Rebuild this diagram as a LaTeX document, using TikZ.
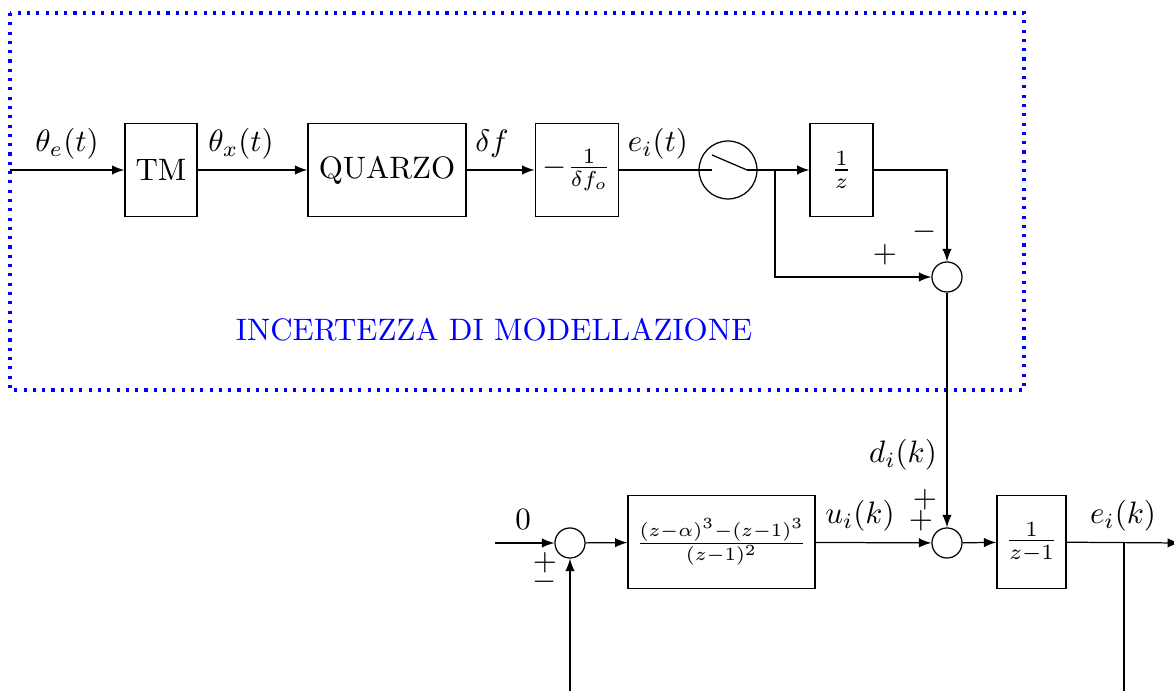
\documentclass[tikz,border=0pt]{standalone}
\usepackage{amsmath,amssymb}
\usetikzlibrary{arrows.meta,positioning}
\tikzset{
  blk/.style={draw, minimum height=30pt, inner sep=2pt},
  sumnode/.style={circle, draw, minimum size=9.7pt, inner sep=0pt},
  lab/.style={inner sep=0pt},
}

\begin{document}
\begin{tikzpicture}[x=.3226pt,y=-.3226pt,>=latex]
\useasboundingbox (0,0) rectangle (1174,691);
% incertezza di modellazione
\draw[blue,dotted,line width=1pt] (10,13) rectangle (1024,390);
\node[lab,text=blue] (inc) at (494,330) {INCERTEZZA DI MODELLAZIONE};
% catena superiore
\coordinate (in1) at (10,170);
\node[blk,minimum width=23.2pt] (tm) at (161,170) {TM};
\node[blk,minimum width=51pt] (qz) at (387,170) {QUARZO};
\node[blk,minimum width=27pt] (gf) at (577,170) {$-\frac{1}{\delta f_o}$};
\node[circle,draw,minimum size=18.7pt,inner sep=0pt] (samp) at (728,170) {};
\coordinate (swL) at (712,170);
\coordinate (swA) at (712,155);
\coordinate (swR) at (747,170);
\coordinate (br1) at (775,170);
\node[blk,minimum width=20.3pt] (zinv) at (841.5,170) {$\frac{1}{z}$};
\node[sumnode] (s0) at (947,277) {};
\draw[->] (in1) -- (tm);
\draw[->] (tm) -- (qz);
\draw[->] (qz) -- (gf);
\draw (gf) -- (swL);
\draw (swA) -- (swR);
\draw[->] (swR) -- (zinv);
\draw[->] (zinv) -| (s0);
\draw[->] (br1) |- (s0);
\node[lab] (lte) at (67,144) {$\theta_e(t)$};
\node[lab] (ltx) at (241,144) {$\theta_x(t)$};
\node[lab] (ldf) at (492,144) {$\delta f$};
\node[lab] (let) at (658,144) {$e_i(t)$};
\node[lab] (lm0) at (925,232) {$-$};
\node[lab] (lp0) at (885,255) {$+$};
% anello di controllo
\coordinate (in0) at (495,543);
\node[sumnode] (s1) at (570,543) {};
\node[blk,minimum width=60.3pt,inner sep=1pt,font=\fontsize{9.2pt}{11pt}\selectfont] (ctrl) at (721.5,542) {$\frac{(z-\alpha)^3-(z-1)^3}{(z-1)^2}$};
\node[sumnode] (s2) at (947,543) {};
\node[blk,minimum width=22.3pt] (plant) at (1031.5,542) {$\frac{1}{z-1}$};
\coordinate (out) at (1180,543);
\coordinate (br2) at (1124,543);
\coordinate (fb1) at (1124,700);
\coordinate (fb0) at (570,700);
\draw[->] (s0) -- (s2);
\draw[->] (in0) -- (s1);
\draw[->] (s1) -- (ctrl);
\draw[->] (ctrl) -- (s2);
\draw[->] (s2) -- (plant);
\draw[->] (plant) -- (out);
\draw (br2) -- (fb1);
\draw[->] (fb0) -- (s1);
\node[lab] (ldk) at (903,455) {$d_i(k)$};
\node[lab] (l0) at (523,520) {$0$};
\node[lab] (lp1) at (545,563) {$+$};
\node[lab] (lm1) at (545,582) {$-$};
\node[lab] (luk) at (860,516) {$u_i(k)$};
\node[lab] (lp2) at (925,500) {$+$};
\node[lab] (lp3) at (921,521) {$+$};
\node[lab] (lek) at (1123,516) {$e_i(k)$};
\end{tikzpicture}
\end{document}
